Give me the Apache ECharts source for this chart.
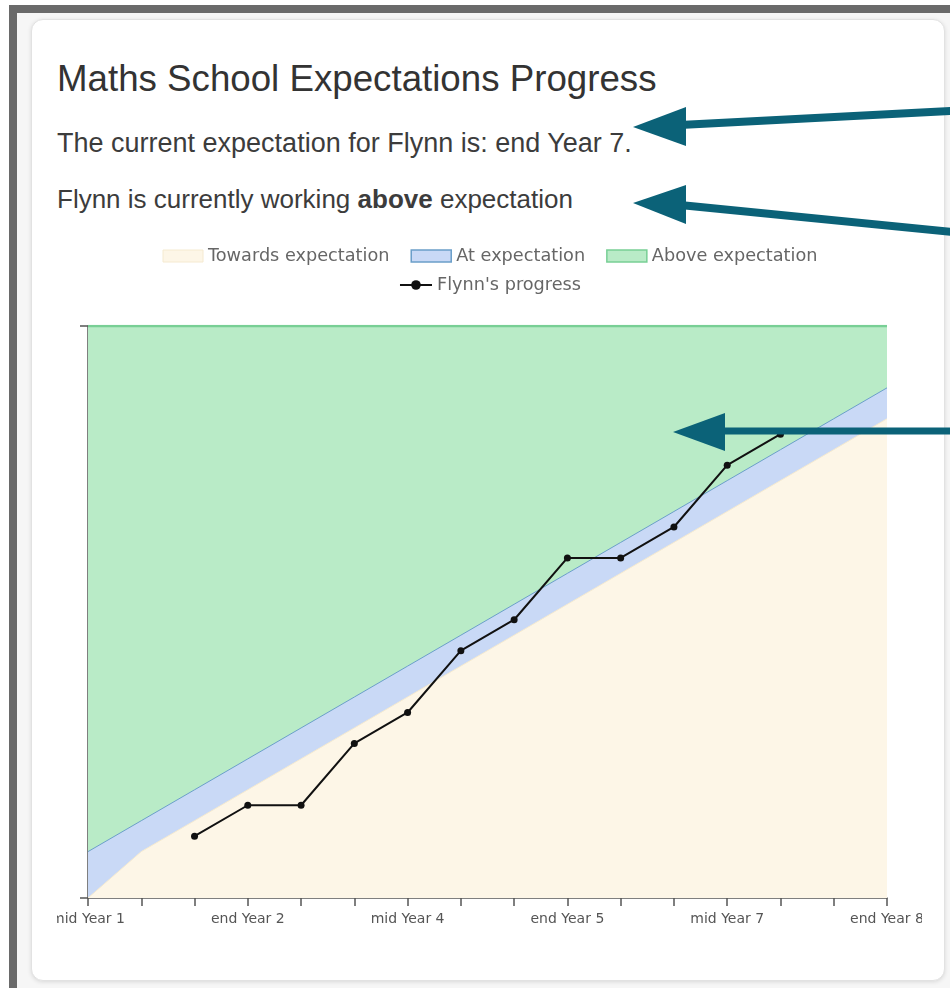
<!DOCTYPE html>
<html>
<head>
<meta charset="utf-8">
<script src="https://cdn.jsdelivr.net/npm/echarts@6/dist/echarts.min.js"></script>
<style>
  html, body { margin: 0; padding: 0; width: 950px; height: 988px; overflow: hidden; background: #ffffff; }
  #frame { position: absolute; left: 9px; top: 5px; width: 960px; height: 976px; border-left: 8px solid #6a6a6a; border-top: 8px solid #6a6a6a; border-bottom: 4px solid #9a9a9a; background: #f6f6f6; }
  #card { position: absolute; left: 31px; top: 19px; width: 912px; height: 960px; background: #fff; border-radius: 12px; border: 1px solid #e2e2e2; box-shadow: 0 1px 4px rgba(0,0,0,0.12); }
  .txt { position: absolute; left: 57px; font-family: "Liberation Sans", Arial, sans-serif; white-space: nowrap; }
  #title { top: 61px; font-size: 36.7px; line-height: 36px; color: #333; }
  #l2 { top: 130px; font-size: 27px; line-height: 27px; color: #3c3c3c; }
  #l3 { top: 186px; font-size: 26px; line-height: 26px; color: #3c3c3c; }
  #wrap { position: absolute; left: 57px; top: 230px; width: 865px; height: 720px; overflow: hidden; }
  #chart { position: absolute; left: 0; top: 0; width: 866px; height: 720px; }
  #arrows { position: absolute; left: 0; top: 0; width: 950px; height: 988px; pointer-events: none; }
</style>
</head>
<body>
<div id="frame"></div>
<div id="card"></div>
<div class="txt" id="title">Maths School Expectations Progress</div>
<div class="txt" id="l2">The current expectation for Flynn is: end Year 7.</div>
<div class="txt" id="l3">Flynn is currently working <b>above</b> expectation</div>
<div id="wrap"><div id="chart"></div></div>
<svg id="arrows" width="950" height="988">
  <g fill="#0b6278" stroke="#0b6278">
    <line x1="680" y1="125" x2="952" y2="111" stroke-width="8"/>
    <polygon points="633,127 686,107 686,146" stroke="none"/>
    <line x1="680" y1="205" x2="952" y2="232" stroke-width="8"/>
    <polygon points="633,203 686,185 686,224" stroke="none"/>
    <line x1="720" y1="431" x2="952" y2="431" stroke-width="7"/>
    <polygon points="673,432 725,413 725,451" stroke="none"/>
  </g>
</svg>
<script>
const categories = ['mid Year 1','end Year 1','mid Year 2','end Year 2','mid Year 3','end Year 3','mid Year 4','end Year 4','mid Year 5','end Year 5','mid Year 6','end Year 6','mid Year 7','end Year 7','mid Year 8','end Year 8'];
const towardsTop = [0, 1.5, 2.5, 3.5, 4.5, 5.5, 6.5, 7.5, 8.5, 9.5, 10.5, 11.5, 12.5, 13.5, 14.5, 15.5];
const atTop = [1.5, 2.5, 3.5, 4.5, 5.5, 6.5, 7.5, 8.5, 9.5, 10.5, 11.5, 12.5, 13.5, 14.5, 15.5, 16.5];
const aboveTop = [18.5, 18.5, 18.5, 18.5, 18.5, 18.5, 18.5, 18.5, 18.5, 18.5, 18.5, 18.5, 18.5, 18.5, 18.5, 18.5];
const flynnProgress = [null, null, 2, 3, 3, 5, 6, 8, 9, 11, 11, 12, 14, 15, null, null];
const yMin = 0;
const yMax = 18.5;

const C = {
  towardsFill: '#fdf6e7', towardsLine: '#f5ead0',
  atFill: '#c9d9f6', atLine: '#6b9fc9',
  aboveFill: '#b9ebc7', aboveLine: '#78cf95'
};
const font = 'DejaVu Sans';

const chart = echarts.init(document.getElementById('chart'), null, { renderer: 'canvas' });
const legendText = { fontSize: 17.7, color: '#666', fontFamily: font };
chart.setOption({
  animation: false,
  grid: { left: 31, top: 96, width: 799, height: 572, containLabel: false, outerBoundsMode: 'none' },
  legend: [
    {
      top: 12, left: 'center', itemWidth: 40, itemHeight: 12, itemGap: 21, icon: 'rect',
      textStyle: legendText, selectedMode: false,
      data: [
        { name: 'Towards expectation', itemStyle: { color: C.towardsFill, borderColor: C.towardsLine, borderWidth: 1 } },
        { name: 'At expectation', itemStyle: { color: C.atFill, borderColor: C.atLine, borderWidth: 1.5 } },
        { name: 'Above expectation', itemStyle: { color: C.aboveFill, borderColor: C.aboveLine, borderWidth: 1.5 } }
      ]
    },
    {
      top: 41, left: 'center', itemWidth: 32, itemHeight: 12, textStyle: legendText, selectedMode: false,
      data: ["Flynn's progress"]
    }
  ],
  xAxis: {
    type: 'category', data: categories, boundaryGap: false,
    axisLine: { show: true, lineStyle: { color: '#555', width: 1.5 } },
    axisTick: { show: true, interval: 0, length: 8, lineStyle: { color: '#555', width: 1.5 } },
    axisLabel: { interval: 2, margin: 14, fontSize: 14, color: '#555', fontFamily: font },
    splitLine: { show: false }
  },
  yAxis: {
    type: 'value', min: yMin, max: yMax, interval: yMax,
    axisLine: { show: true, lineStyle: { color: '#555', width: 1.5 } },
    axisTick: { show: true, length: 8, lineStyle: { color: '#555', width: 1.5 } },
    axisLabel: { show: false },
    splitLine: { show: false }
  },
  series: [
    {
      name: 'Above expectation', type: 'line', data: aboveTop, symbol: 'none', z: 1,
      lineStyle: { color: C.aboveLine, width: 2.5 }, itemStyle: { color: C.aboveFill },
      areaStyle: { color: C.aboveFill, opacity: 1 }, emphasis: { disabled: true }, silent: true
    },
    {
      name: 'At expectation', type: 'line', data: atTop, symbol: 'none', z: 2,
      lineStyle: { color: C.atLine, width: 1 }, itemStyle: { color: C.atFill },
      areaStyle: { color: C.atFill, opacity: 1 }, emphasis: { disabled: true }, silent: true
    },
    {
      name: 'Towards expectation', type: 'line', data: towardsTop, symbol: 'none', z: 3,
      lineStyle: { color: C.towardsLine, width: 1 }, itemStyle: { color: C.towardsFill },
      areaStyle: { color: C.towardsFill, opacity: 1 }, emphasis: { disabled: true }, silent: true
    },
    {
      name: "Flynn's progress", type: 'line', data: flynnProgress, z: 5,
      symbol: 'circle', symbolSize: 7, showSymbol: true,
      lineStyle: { color: '#111', width: 2 }, itemStyle: { color: '#111' },
      emphasis: { disabled: true }
    }
  ]
});
</script>
</body>
</html>
